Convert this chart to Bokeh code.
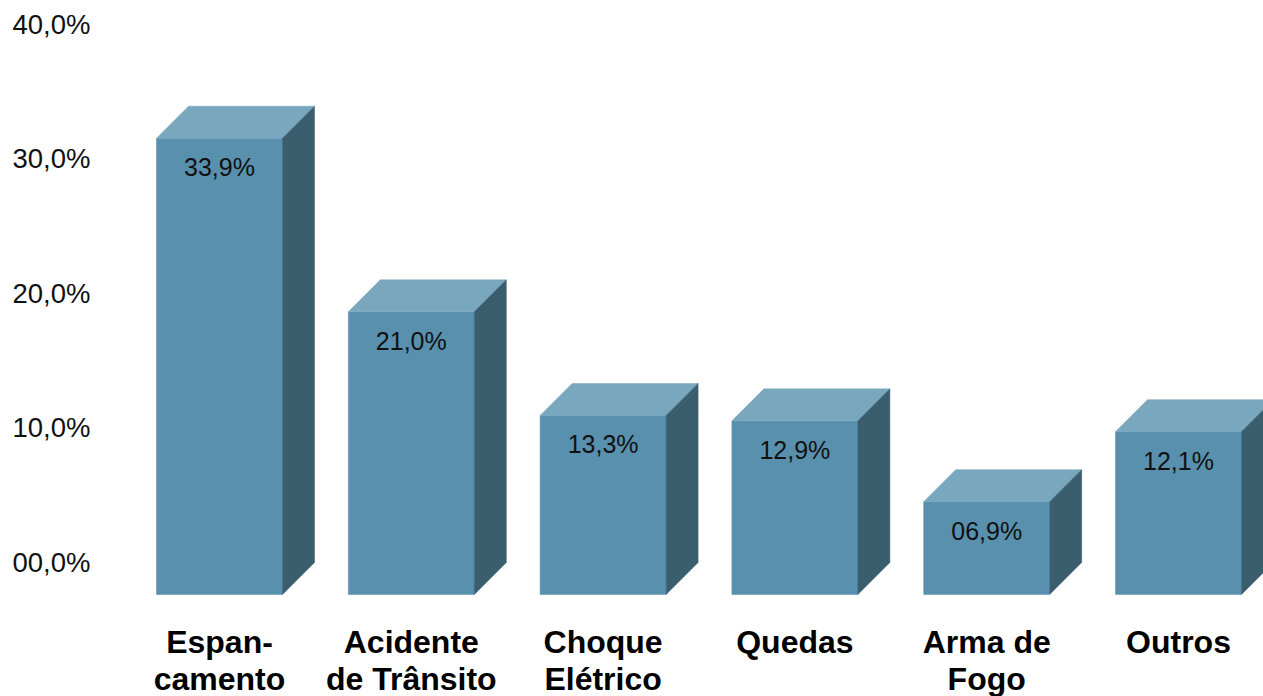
from bokeh.plotting import figure
from bokeh.models import Range1d, FixedTicker, ColumnDataSource
from bokeh.core.properties import value
from bokeh.embed import file_html
from bokeh.resources import INLINE

# --- data -------------------------------------------------------------
categories = ["Espan-\ncamento", "Acidente\nde Trânsito", "Choque\nElétrico",
              "Quedas", "Arma de\nFogo", "Outros"]
shares = [33.9, 21.0, 13.3, 12.9, 6.9, 12.1]
share_labels = ["33,9%", "21,0%", "13,3%", "12,9%", "06,9%", "12,1%"]
y_ticks = [0, 10, 20, 30, 40]
y_tick_labels = ["00,0%", "10,0%", "20,0%", "30,0%", "40,0%"]

# --- styling / geometry -----------------------------------------------
FRONT = "#5990ad"
TOP = "#79a7be"
SIDE = "#3b5e6f"
FONT = "Liberation Sans"

W, H = 1263, 696
LEFT_BORDER = 100
PX_PER_X = 191.8          # pixels per category step
PX_PER_Y = 13.46          # pixels per percentage point
ZERO_PX = 562             # pixel row of the 0 % level (back wall)
FIRST_PX = 219            # pixel column of first bar's front centre

HALF_W = 63 / PX_PER_X    # half width of a bar's front face
DX = 32 / PX_PER_X        # depth offset, x
DY = 32 / PX_PER_Y        # depth offset, y

x_start = (LEFT_BORDER - FIRST_PX) / PX_PER_X
x_end = (W - FIRST_PX) / PX_PER_X
y_end = ZERO_PX / PX_PER_Y
y_start = -(H - ZERO_PX) / PX_PER_Y

p = figure(width=W, height=H, output_backend="svg", toolbar_location=None,
           x_range=Range1d(x_start, x_end), y_range=Range1d(y_start, y_end),
           min_border_left=LEFT_BORDER, min_border_right=0,
           min_border_top=0, min_border_bottom=0)
p.outline_line_color = None
p.background_fill_color = "white"
p.border_fill_color = "white"
p.grid.visible = False
p.xaxis.visible = False

ax = p.yaxis[0]
ax.ticker = FixedTicker(ticks=y_ticks)
ax.major_label_overrides = {t: lab for t, lab in zip(y_ticks, y_tick_labels)}
ax.axis_line_color = None
ax.major_tick_line_color = None
ax.minor_tick_line_color = None
ax.major_tick_out = 0
ax.major_tick_in = 0
ax.major_label_standoff = 10
ax.major_label_text_font = FONT
ax.major_label_text_font_size = "27.5px"
ax.major_label_text_color = "#111111"

xs = list(range(len(shares)))

# front faces
front = ColumnDataSource(dict(
    left=[i - HALF_W for i in xs], right=[i + HALF_W for i in xs],
    bottom=[-DY] * len(xs), top=[v - DY for v in shares]))
p.quad(left="left", right="right", bottom="bottom", top="top", source=front,
       fill_color=FRONT, line_color=FRONT, line_width=0.5)

# top and side faces
top_xs, top_ys, side_xs, side_ys = [], [], [], []
for i, v in zip(xs, shares):
    l, r = i - HALF_W, i + HALF_W
    top_xs.append([l, r, r + DX, l + DX])
    top_ys.append([v - DY, v - DY, v, v])
    side_xs.append([r, r, r + DX, r + DX])
    side_ys.append([-DY, v - DY, v, 0])
p.patches(top_xs, top_ys, fill_color=TOP, line_color=TOP, line_width=0.5)
p.patches(side_xs, side_ys, fill_color=SIDE, line_color=SIDE, line_width=0.5)

# value labels inside the front faces
p.text(x=xs, y=[v - DY - 29 / PX_PER_Y for v in shares], text=share_labels,
       text_align="center", text_baseline="alphabetic",
       text_font=value(FONT), text_font_size="25px", text_color="#111111")

# category labels under the bars
line1 = [c.split("\n")[0] for c in categories]
line2 = [c.split("\n")[1] if "\n" in c else "" for c in categories]
y1 = (ZERO_PX - 641) / PX_PER_Y
y2 = (ZERO_PX - 678) / PX_PER_Y
for txt, yy in ((line1, y1), (line2, y2)):
    p.text(x=xs, y=[yy] * len(xs), text=txt, text_align="center",
           text_baseline="alphabetic", text_font=value(FONT),
           text_font_style="bold", text_font_size="32px", text_color="black")

open("out.html", "w").write(file_html(p, INLINE))
